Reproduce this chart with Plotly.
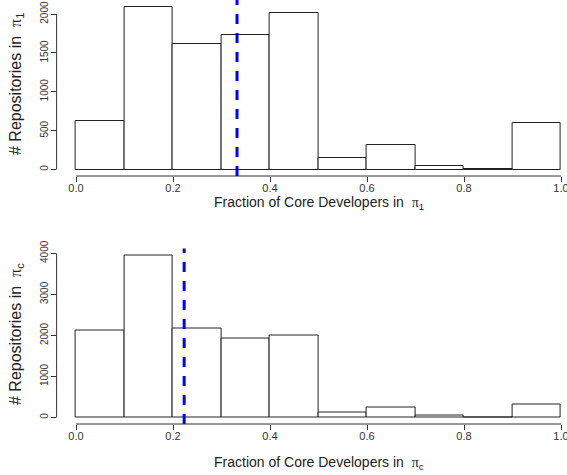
import plotly.graph_objects as go

# Data
bin_edges = [0.0, 0.1, 0.2, 0.3, 0.4, 0.5, 0.6, 0.7, 0.8, 0.9, 1.0]
counts_pi1 = [625, 2085, 1615, 1730, 2010, 145, 310, 48, 4, 595]
counts_pic = [2115, 3960, 2175, 1915, 1990, 110, 250, 50, 3, 320]
mean_pi1 = 0.332
mean_pic = 0.223
x_ticks = [0.0, 0.2, 0.4, 0.6, 0.8, 1.0]
x_tick_text = ["0.0", "0.2", "0.4", "0.6", "0.8", "1.0"]
y_ticks_pi1 = [0, 500, 1000, 1500, 2000]
y_ticks_pic = [0, 1000, 2000, 3000, 4000]

W, H = 567, 475
FONT = "Liberation Sans, Arial, Helvetica, sans-serif"
LINE = "#222222"

centers = [(a + b) / 2 for a, b in zip(bin_edges[:-1], bin_edges[1:])]
widths = [b - a for a, b in zip(bin_edges[:-1], bin_edges[1:])]

fig = go.Figure()
fig.add_trace(go.Bar(x=centers, y=counts_pi1, width=widths, marker=dict(color="white", line=dict(color=LINE, width=1)),
                     xaxis="x", yaxis="y", showlegend=False, hoverinfo="skip"))
fig.add_trace(go.Bar(x=centers, y=counts_pic, width=widths, marker=dict(color="white", line=dict(color=LINE, width=1)),
                     xaxis="x2", yaxis="y2", showlegend=False, hoverinfo="skip"))

x_left = 56.6
xr = [-0.04, -0.04 + (W - x_left) / 485.0]

def yrange(vals):
    m = max(vals)
    return [-0.04 * m, 1.04 * m]

top_dom = [1 - 176 / H, 1 - 1 / H]
bot_dom = [1 - 424 / H, 1 - 248.5 / H]
xdom = [x_left / W, 1.0]

xcommon = dict(showgrid=False, zeroline=False, showline=False, ticks="outside", ticklen=5,
               tickcolor="#333", tickwidth=1, tickfont=dict(family=FONT, size=11, color="#333"),
               ticklabelstandoff=-3, automargin=False, ticklabeloverflow="allow")
ycommon = dict(showgrid=False, zeroline=False, showline=False, ticks="outside", ticklen=5,
               tickcolor="#333", tickwidth=1, tickfont=dict(family=FONT, size=10, color="#333"),
               tickangle=-90, ticklabelstandoff=-1, automargin=False)

fig.update_layout(
    width=W, height=H, margin=dict(l=0, r=0, t=0, b=0, pad=0),
    paper_bgcolor="white", plot_bgcolor="white", bargap=0,
    xaxis=dict(domain=xdom, range=xr, anchor="y", tickvals=x_ticks, ticktext=x_tick_text, **xcommon),
    yaxis=dict(domain=top_dom, range=yrange(counts_pi1), anchor="x", tickvals=y_ticks_pi1, **ycommon),
    xaxis2=dict(domain=xdom, range=xr, anchor="y2", tickvals=x_ticks, ticktext=x_tick_text, **xcommon),
    yaxis2=dict(domain=bot_dom, range=yrange(counts_pic), anchor="x2", tickvals=y_ticks_pic, **ycommon),
)

shapes = []
shapes.append(dict(type="line", xref="x", yref="y domain", x0=0, x1=1, y0=0, y1=0, line=dict(color="#333", width=1)))
shapes.append(dict(type="line", xref="x2", yref="y2 domain", x0=0, x1=1, y0=0, y1=0, line=dict(color="#333", width=1)))
shapes.append(dict(type="line", xref="x domain", yref="y", x0=0, x1=0, y0=0, y1=2000, line=dict(color="#333", width=1)))
shapes.append(dict(type="line", xref="x2 domain", yref="y2", x0=0, x1=0, y0=0, y1=4000, line=dict(color="#333", width=1)))
shapes.append(dict(type="line", xref="x", yref="y domain", x0=mean_pi1, x1=mean_pi1, y0=0, y1=1.01,
                   line=dict(color="#0000FF", width=3, dash="10px,9px")))
shapes.append(dict(type="line", xref="x2", yref="y2 domain", x0=mean_pic, x1=mean_pic, y0=0, y1=1.0,
                   line=dict(color="#0000FF", width=3, dash="10px,9px")))
fig.update_layout(shapes=shapes)

PI = "<span style='font-family:Liberation Serif, Times New Roman, serif'>π</span>"
ann = []
ann.append(dict(text="Fraction of Core Developers in  " + PI + "<sub>1</sub>", x=318.5 / W, y=1 - 203 / H,
                xref="paper", yref="paper", showarrow=False, font=dict(family=FONT, size=14, color="#222"),
                xanchor="center", yanchor="middle"))
ann.append(dict(text="Fraction of Core Developers in  " + PI + "<sub>c</sub>", x=318.5 / W, y=1 - 463 / H,
                xref="paper", yref="paper", showarrow=False, font=dict(family=FONT, size=14, color="#222"),
                xanchor="center", yanchor="middle"))
ann.append(dict(text="# Repositories in  " + PI + "<sub>1</sub>", x=16 / W, y=1 - 84 / H,
                xref="paper", yref="paper", showarrow=False, textangle=-90, font=dict(family=FONT, size=16, color="#222"),
                xanchor="center", yanchor="middle"))
ann.append(dict(text="# Repositories in  " + PI + "<sub>c</sub>", x=16 / W, y=1 - 334 / H,
                xref="paper", yref="paper", showarrow=False, textangle=-90, font=dict(family=FONT, size=16, color="#222"),
                xanchor="center", yanchor="middle"))
fig.update_layout(annotations=ann)

fig.write_html("out.html", config={"displayModeBar": False},
               post_script="document.body.style.margin='0';document.body.style.padding='0';")
